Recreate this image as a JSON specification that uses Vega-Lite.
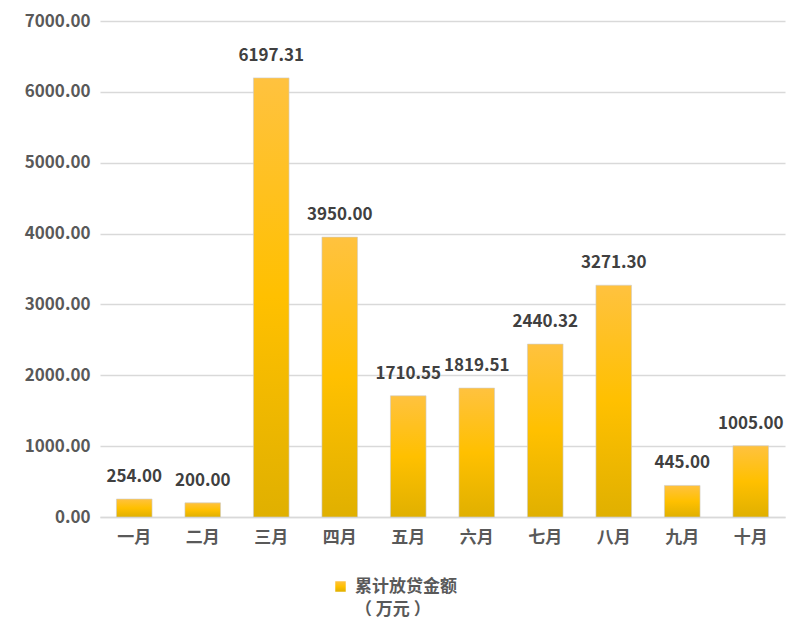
{
  "$schema": "https://vega.github.io/schema/vega-lite/v6.json",
  "width": 685,
  "height": 496,
  "autosize": {"type": "none"},
  "padding": {"left": 100, "top": 21, "right": 15, "bottom": 119},
  "background": "white",
  "config": {
    "view": {"stroke": null},
    "font": "Noto Sans CJK SC",
    "axis": {"labelFont": "Noto Sans CJK SC", "labelFontWeight": "bold", "labelFontSize": 17, "labelColor": "#595959"},
    "style": {"guide-label": {"lineHeight": 23}}
  },
  "data": {
    "values": [
      {"month": "一月", "value": 254.00, "series": "累计放贷金额"},
      {"month": "二月", "value": 200.00, "series": "累计放贷金额"},
      {"month": "三月", "value": 6197.31, "series": "累计放贷金额"},
      {"month": "四月", "value": 3950.00, "series": "累计放贷金额"},
      {"month": "五月", "value": 1710.55, "series": "累计放贷金额"},
      {"month": "六月", "value": 1819.51, "series": "累计放贷金额"},
      {"month": "七月", "value": 2440.32, "series": "累计放贷金额"},
      {"month": "八月", "value": 3271.30, "series": "累计放贷金额"},
      {"month": "九月", "value": 445.00, "series": "累计放贷金额"},
      {"month": "十月", "value": 1005.00, "series": "累计放贷金额"}
    ]
  },
  "encoding": {
    "x": {
      "field": "month", "type": "nominal", "sort": null,
      "scale": {"paddingInner": 0.48, "paddingOuter": 0.24},
      "axis": {"title": null, "labelAngle": 0, "ticks": false, "domainColor": "#d9d9d9", "domainWidth": 1.5, "labelPadding": 12}
    },
    "y": {
      "field": "value", "type": "quantitative",
      "scale": {"domain": [0, 7000]},
      "axis": {"title": null, "format": ".2f", "values": [0,1000,2000,3000,4000,5000,6000,7000], "domain": false, "ticks": false, "gridColor": "#d9d9d9", "gridWidth": 1.5, "labelPadding": 10}
    }
  },
  "layer": [
    {
      "mark": {
        "type": "bar",
        "fill": {
          "gradient": "linear", "x1": 0, "y1": 0, "x2": 0, "y2": 1,
          "stops": [
            {"offset": 0, "color": "#FFC23F"},
            {"offset": 0.5, "color": "#FFC000"},
            {"offset": 1, "color": "#E0B000"}
          ]
        },
        "stroke": "#cccccc", "strokeWidth": 0.6
      },
      "encoding": {
        "opacity": {
          "field": "series", "type": "nominal",
          "scale": {"range": [1]},
          "legend": {
            "title": null, "orient": "none", "legendX": 232, "legendY": 557,
            "symbolType": "square", "symbolSize": 110, "symbolStrokeWidth": 0,
            "symbolFillColor": "#FFC000", "symbolOpacity": 1,
            "labelFontSize": 17, "labelFontWeight": "bold", "labelColor": "#595959",
            "labelFont": "Noto Sans CJK SC",
            "labelExpr": "['累计放贷金额', '（ 万元 ）']",
            "labelLimit": 300, "labelOffset": 6
          }
        }
      }
    },
    {
      "mark": {"type": "text", "dy": -22, "fontSize": 17, "fontWeight": "bold", "color": "#404040", "font": "Noto Sans CJK SC"},
      "encoding": {
        "text": {"field": "value", "type": "quantitative", "format": ".2f"}
      }
    }
  ]
}
